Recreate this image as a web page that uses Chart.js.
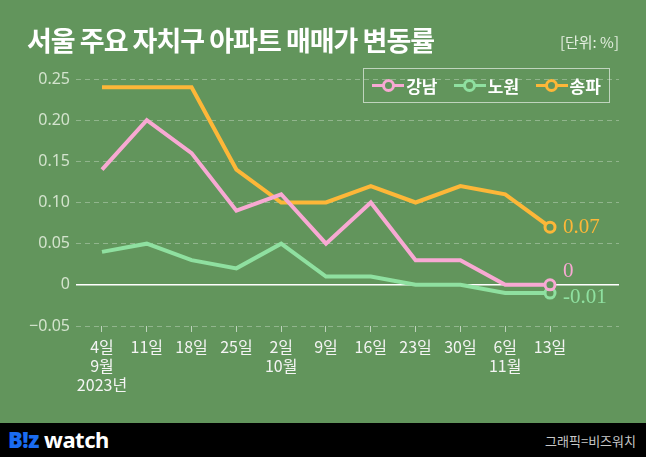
<!DOCTYPE html>
<html>
<head>
<meta charset="utf-8">
<script src="https://cdn.jsdelivr.net/npm/chart.js@4"></script>
<style>
  body { margin: 0; width: 646px; height: 457px; background: #62955c; overflow: hidden; position: relative;
         font-family: "Noto Sans CJK KR", "Noto Sans", sans-serif; }
  #title { position: absolute; left: 27px; top: 22px; color: #fff; font-size: 27px; font-weight: bold; letter-spacing: -1px; line-height: 36px; }
  #unit { position: absolute; right: 27px; top: 31px; color: #e4eee0; font-size: 15px; }
  #wrap { position: absolute; left: 0; top: 0; width: 646px; height: 423px; }
  #legend { position: absolute; left: 363px; top: 68px; width: 245px; height: 33px; border: 1.5px solid rgba(255,255,255,0.6);
            display: flex; align-items: center; justify-content: space-around; color: #fff; font-size: 17px; font-weight: bold; }
  .item { display: flex; align-items: center; }
  .icon { position: relative; width: 32px; height: 14px; margin-right: 2px; }
  .icon .ln { position: absolute; left: 0; right: 0; top: 5.5px; height: 3px; }
  .icon .dot { position: absolute; left: 9.5px; top: 0; width: 7px; height: 7px; border-radius: 50%; border: 3px solid; background: #62955c; }
  #footer { position: absolute; left: 0; top: 423px; width: 646px; height: 34px; background: #000; }
  #logo { position: absolute; left: 8px; top: 1px; font-size: 22px; font-weight: bold; font-family: "Noto Sans", sans-serif; color: #fff; letter-spacing: -0.5px; }
  #logo b { color: #1a6cf0; }
  #credit { position: absolute; right: 10px; top: 8px; font-size: 13px; color: #c8c8c8; }
</style>
</head>
<body>
<div id="wrap"><canvas id="myChart"></canvas></div>
<div id="title">서울 주요 자치구 아파트 매매가 변동률</div>
<div id="unit">[단위: %]</div>
<div id="legend"></div>
<div id="footer"><div id="logo"><b>B!z</b> watch</div><div id="credit">그래픽=비즈워치</div></div>
<script>
const X_LABELS = [["4일", "9월", "2023년"], "11일", "18일", "25일", ["2일", "10월"], "9일", "16일", "23일", "30일", ["6일", "11월"], "13일"];
const GANGNAM = [0.14, 0.20, 0.16, 0.09, 0.11, 0.05, 0.10, 0.03, 0.03, 0.00, 0.00];
const NOWON = [0.04, 0.05, 0.03, 0.02, 0.05, 0.01, 0.01, 0.00, 0.00, -0.01, -0.01];
const SONGPA = [0.24, 0.24, 0.24, 0.14, 0.10, 0.10, 0.12, 0.10, 0.12, 0.11, 0.07];
const END_LABELS = ["0", "-0.01", "0.07"];

const BG = "#62955c";
const SERIES = [
  { label: "강남", data: GANGNAM, color: "#f8a9d3", dy: -13 },
  { label: "노원", data: NOWON, color: "#8fe0a0", dy: 4 },
  { label: "송파", data: SONGPA, color: "#fdb738", dy: 0 },
];

// legend in html
let legend = document.getElementById("legend");
SERIES.forEach((s) => {
  legend.innerHTML += '<div class="item"><div class="icon"><div class="ln" style="background:' + s.color +
    '"></div><div class="dot" style="border-color:' + s.color + '"></div></div>' + s.label + '</div>';
});

// value labels after the last point
const endLabels = {
  id: "endLabels",
  afterDatasetsDraw(chart) {
    let ctx = chart.ctx;
    ctx.save();
    ctx.font = '21px "Liberation Serif", serif';
    ctx.textBaseline = "middle";
    SERIES.forEach((s, i) => {
      let last = s.data.length - 1;
      let x = chart.scales.x.getPixelForValue(last);
      let y = chart.scales.y.getPixelForValue(s.data[last]);
      ctx.fillStyle = s.color;
      ctx.fillText(END_LABELS[i], x + 13, y + s.dy);
    });
    ctx.restore();
  },
};

let ctx = document.getElementById("myChart").getContext("2d");
new Chart(ctx, {
  type: "line",
  data: {
    datasets: SERIES.map((s) => ({
      label: s.label,
      data: s.data.map((v, i) => ({ x: i, y: v })),
      borderColor: s.color,
      borderWidth: 4,
      pointRadius: s.data.map((v, i) => (i === s.data.length - 1 ? 5 : 0)),
      pointBackgroundColor: BG,
      pointBorderColor: s.color,
      pointBorderWidth: 3,
      tension: 0,
    })),
  },
  options: {
    responsive: true,
    maintainAspectRatio: false,
    animation: false,
    layout: { padding: { top: 79, right: 27, left: 0, bottom: 0 } },
    plugins: { legend: { display: false }, tooltip: { enabled: false } },
    scales: {
      x: {
        type: "linear",
        min: -0.58,
        max: 11.54,
        afterBuildTicks: (scale) => { scale.ticks = X_LABELS.map((l, i) => ({ value: i })); },
        afterFit: (scale) => { scale.height = 97; },
        ticks: {
          autoSkip: false,
          maxRotation: 0,
          padding: 5,
          color: "#f4f4f4",
          font: { family: '"Noto Sans CJK KR"', size: 16, lineHeight: 1.2 },
          callback: (v) => X_LABELS[v],
        },
        grid: { drawOnChartArea: false, tickLength: 6, color: "rgba(255,255,255,0.6)" },
        border: { display: false },
      },
      y: {
        min: -0.05,
        max: 0.25,
        afterFit: (scale) => { scale.width = 76; },
        ticks: {
          stepSize: 0.05,
          padding: 6,
          color: "#d3e3cd",
          font: { family: '"Noto Sans"', size: 16 },
          callback: (v) => (Math.abs(v) < 1e-9 ? "0" : (v < 0 ? "\u2212" + Math.abs(v).toFixed(2) : v.toFixed(2))),
        },
        grid: {
          drawTicks: false,
          lineWidth: (c) => (Math.abs(c.tick.value) < 1e-9 ? 1.5 : 1),
          color: (c) => (Math.abs(c.tick.value) < 1e-9 ? "#ffffff" : "rgba(255,255,255,0.3)"),
        },
        border: { display: false, dash: (c) => (Math.abs(c.tick.value) < 1e-9 ? [] : [5, 4]) },
      },
    },
  },
  plugins: [endLabels],
});
</script>
</body>
</html>
